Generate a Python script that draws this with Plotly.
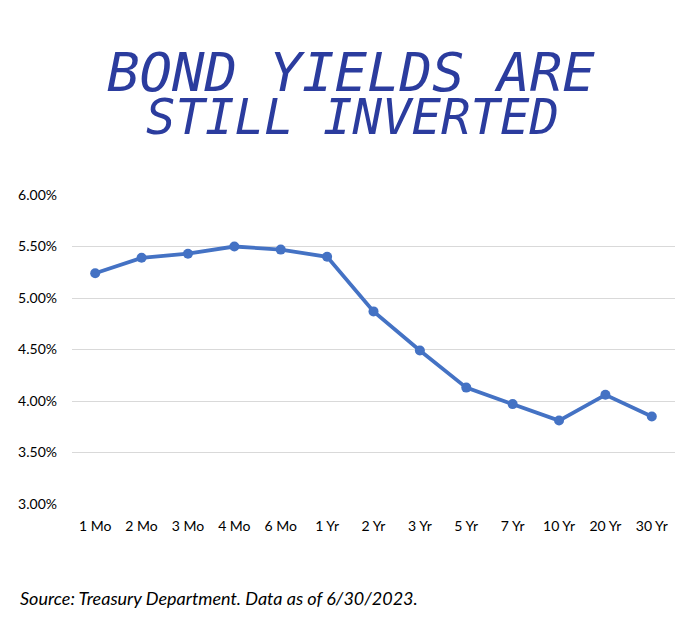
import plotly.graph_objects as go

maturities = ["1 Mo", "2 Mo", "3 Mo", "4 Mo", "6 Mo", "1 Yr", "2 Yr", "3 Yr",
              "5 Yr", "7 Yr", "10 Yr", "20 Yr", "30 Yr"]
yields_pct = [5.24, 5.39, 5.43, 5.50, 5.47, 5.40, 4.87, 4.49, 4.13, 3.97, 3.81, 4.06, 3.85]
y_ticks = [3.0, 3.5, 4.0, 4.5, 5.0, 5.5, 6.0]
y_tick_labels = ["3.00%", "3.50%", "4.00%", "4.50%", "5.00%", "5.50%", "6.00%"]

title_line1 = "BOND YIELDS ARE"
title_line2 = "STILL INVERTED"
source_text = "Source: Treasury Department. Data as of 6/30/2023."

fig = go.Figure()
fig.add_trace(go.Scatter(
    x=maturities, y=yields_pct, mode="lines+markers",
    line=dict(color="#4472C4", width=3.8),
    marker=dict(color="#4472C4", size=10),
    showlegend=False, hoverinfo="x+y",
))

title_color = "#2B3C9E"
fig.add_annotation(text=title_line1, xref="paper", yref="paper", x=0.463, y=1.0,
                   xanchor="center", yanchor="middle", showarrow=False,
                   font=dict(family="DejaVu Sans Mono", size=54, color=title_color, style="italic"),
                   yshift=123)
fig.add_annotation(text=title_line2, xref="paper", yref="paper", x=0.465, y=1.0,
                   xanchor="center", yanchor="middle", showarrow=False,
                   font=dict(family="DejaVu Sans Mono", size=49, color=title_color, style="italic"),
                   yshift=78)
fig.add_annotation(text=source_text, xref="paper", yref="paper", x=0, y=0,
                   xanchor="left", yanchor="middle", showarrow=False,
                   xshift=-54, yshift=-94,
                   font=dict(family="Lato", size=18, color="#000000", style="italic"))

fig.update_layout(
    width=700, height=636,
    margin=dict(l=72, r=25, t=195, b=132, autoexpand=False),
    paper_bgcolor="white", plot_bgcolor="white",
    font=dict(family="Lato", size=14, color="#000000"),
    xaxis=dict(type="category", range=[-0.5, 12.5], showgrid=False, zeroline=False,
               showline=False, automargin=False, ticks="", ticklabelstandoff=12,
               tickfont=dict(size=14)),
    yaxis=dict(range=[3.0, 6.0], tickvals=y_ticks, ticktext=y_tick_labels,
               showgrid=True, gridcolor="#D9D9D9", gridwidth=1, zeroline=False,
               automargin=False, showline=False, ticks="", ticklabelstandoff=14,
               tickfont=dict(size=14)),
)

fig.write_html("out.html", config={"displayModeBar": False},
               post_script="document.body.style.margin='0';")
